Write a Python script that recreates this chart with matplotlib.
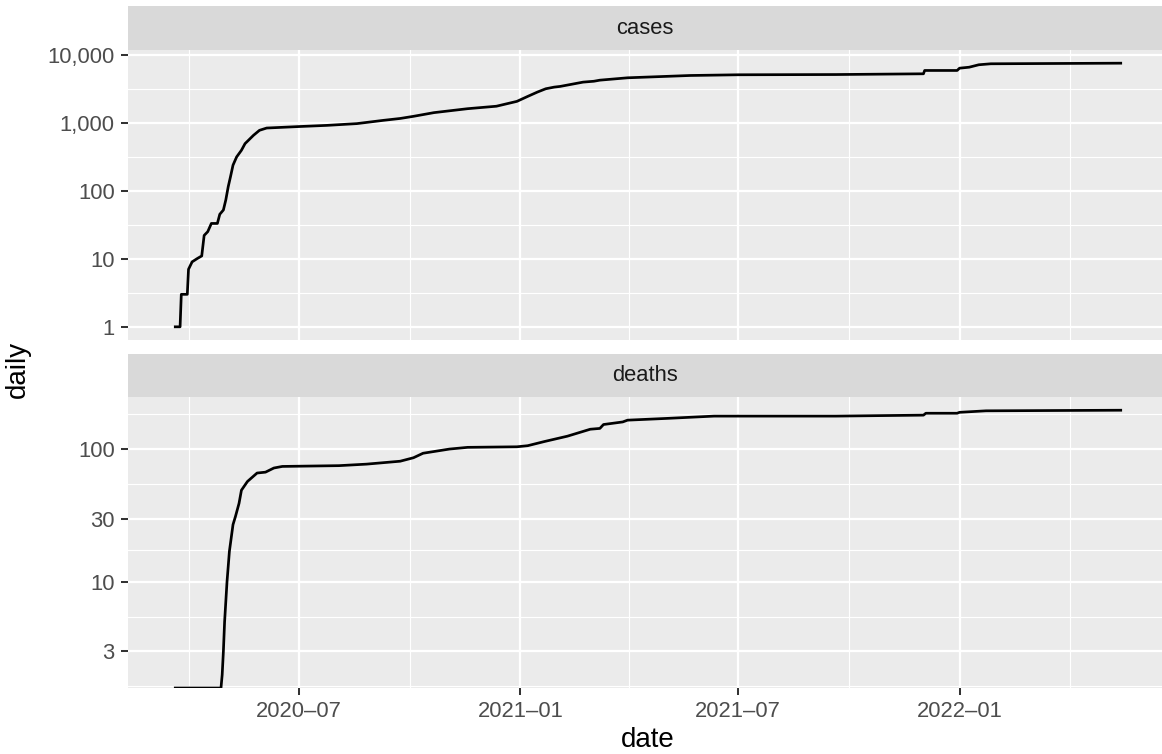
"""
Cumulative cases and deaths on log scales, two stacked facets
drawn in the style of a ggplot2 facet_wrap with free y scales.
"""

import datetime

import matplotlib
matplotlib.use('Agg')
import matplotlib.dates as mdates
import matplotlib.pyplot as plt
from matplotlib.ticker import FixedLocator, FuncFormatter
import numpy as np


CASE_DATES = [
    '2020-03-20', '2020-03-24', '2020-03-25', '2020-03-30', '2020-03-31',
    '2020-04-03', '2020-04-07', '2020-04-11', '2020-04-13', '2020-04-16',
    '2020-04-19', '2020-04-24', '2020-04-26', '2020-04-29', '2020-05-01',
    '2020-05-03', '2020-05-05', '2020-05-07', '2020-05-10', '2020-05-14',
    '2020-05-17', '2020-05-24', '2020-05-29', '2020-06-04', '2020-07-01',
    '2020-07-24', '2020-08-18', '2020-09-09', '2020-09-23', '2020-10-04',
    '2020-10-21', '2020-11-18', '2020-12-12', '2020-12-29', '2021-01-07',
    '2021-01-15', '2021-01-22', '2021-01-29', '2021-02-03', '2021-02-22',
    '2021-03-03', '2021-03-08', '2021-03-31', '2021-05-22', '2021-07-01',
    '2021-09-20', '2021-12-02', '2021-12-03', '2021-12-30', '2022-01-01',
    '2022-01-09', '2022-01-17', '2022-01-27', '2022-05-15',
]
CASE_VALUES = [
    1, 1, 3, 3, 7,
    9, 10, 11, 22, 25,
    33, 33, 45, 52, 73,
    114, 163, 237, 313, 392,
    491, 650, 770, 832, 875,
    910, 966, 1079, 1150, 1236,
    1400, 1600, 1740, 2050, 2425,
    2805, 3140, 3320, 3400, 3930,
    4050, 4200, 4550, 4920, 5040,
    5080, 5210, 5830, 5830, 6300,
    6510, 7070, 7310, 7460,
]

DEATH_DATES = [
    '2020-03-20', '2020-04-27', '2020-04-28', '2020-04-29', '2020-04-30',
    '2020-05-02', '2020-05-04', '2020-05-07', '2020-05-09', '2020-05-12',
    '2020-05-14', '2020-05-19', '2020-05-27', '2020-06-03', '2020-06-10',
    '2020-06-17', '2020-08-03', '2020-08-26', '2020-09-23', '2020-10-04',
    '2020-10-12', '2020-11-03', '2020-11-18', '2020-12-29', '2021-01-07',
    '2021-01-21', '2021-02-09', '2021-02-28', '2021-03-08', '2021-03-11',
    '2021-03-27', '2021-03-31', '2021-05-02', '2021-06-11', '2021-09-20',
    '2021-12-02', '2021-12-04', '2021-12-30', '2022-01-01', '2022-01-23',
    '2022-05-15',
]
DEATH_VALUES = [
    0, 0, 2, 3, 5,
    10, 17, 27, 31, 39,
    49, 57, 66, 67, 72,
    74, 75, 77, 81, 86,
    93, 100, 103, 104, 106,
    114, 125, 141, 143, 153,
    160, 165, 170, 177, 177,
    180, 186, 186, 189, 194,
    196,
]

FACETS = ['cases', 'deaths']
Y_BREAKS = {
    'cases': [1, 10, 100, 1000, 10000],
    'deaths': [3, 10, 30, 100],
}
X_BREAKS = ['2020-07-01', '2021-01-01', '2021-07-01', '2022-01-01']

FIG_W, FIG_H = 1162, 754

PANEL_BG = '#EBEBEB'
STRIP_BG = '#D9D9D9'
TICK_TEXT = '#4D4D4D'
TICK_COLOR = '#333333'


def to_num(dates):
    return mdates.date2num(
        [datetime.datetime.strptime(d, '%Y-%m-%d') for d in dates])


def add_px_axes(fig, left, top, right, bottom):
    return fig.add_axes([
        left / FIG_W, 1 - bottom / FIG_H,
        (right - left) / FIG_W, (bottom - top) / FIG_H])


def log_limits(values):
    positive = np.asarray(values, dtype=float)
    positive = positive[positive > 0]
    lo, hi = np.log10(positive.min()), np.log10(positive.max())
    pad = 0.05 * (hi - lo)
    return 10 ** (lo - pad), 10 ** (hi + pad)


def log_minor_breaks(breaks, limits):
    b = list(np.log10(breaks))
    step = b[1] - b[0]
    lo, hi = np.log10(limits)
    if lo < b[0]:
        b = [b[0] - step] + b
    if hi > b[-1]:
        b = b + [b[-1] + step]
    mids = [(a + c) / 2 for a, c in zip(b[:-1], b[1:])]
    return [10 ** m for m in mids if lo <= m <= hi]


def date_minor_breaks(breaks):
    step = breaks[1] - breaks[0]
    b = [breaks[0] - step] + list(breaks) + [breaks[-1] + step]
    return [(a + c) / 2 for a, c in zip(b[:-1], b[1:])]


def draw_strip(fig, top, bottom, left, right, label):
    ax = add_px_axes(fig, left, top, right, bottom)
    ax.set_facecolor(STRIP_BG)
    ax.set_xticks([])
    ax.set_yticks([])
    for spine in ax.spines.values():
        spine.set_visible(False)
    visible_center = (left + FIG_W) / 2
    ax.text((visible_center - left) / (right - left), 0.5, label,
            transform=ax.transAxes, ha='center', va='center',
            fontsize=15.8, color='#1A1A1A')


def main():

    plt.rcParams['font.family'] = ['Liberation Sans', 'DejaVu Sans']

    fig = plt.figure(figsize=(FIG_W / 100, FIG_H / 100), dpi=100)

    case_x = to_num(CASE_DATES)
    death_x = to_num(DEATH_DATES)

    all_x = np.concatenate([case_x, death_x])
    x_pad = 0.05 * (all_x.max() - all_x.min())
    x_limits = (all_x.min() - x_pad, all_x.max() + x_pad)

    x_breaks = to_num(X_BREAKS)
    x_minor = date_minor_breaks(list(x_breaks))

    left, right = 128, 1168
    layout = {
        'cases': (6, 50, 340),
        'deaths': (354, 397, 688),
    }
    series = {
        'cases': (case_x, np.array(CASE_VALUES, dtype=float)),
        'deaths': (death_x, np.array(DEATH_VALUES, dtype=float)),
    }

    for name in FACETS:

        strip_top, panel_top, panel_bottom = layout[name]
        draw_strip(fig, strip_top, panel_top, left, right, name)

        ax = add_px_axes(fig, left, panel_top, right, panel_bottom)
        ax.set_facecolor(PANEL_BG)
        for spine in ax.spines.values():
            spine.set_visible(False)

        x, y = series[name]
        y_limits = log_limits(y)
        # zeros have no log value; ggplot pins them to the panel edge
        y_plot = np.where(y > 0, y, y_limits[0])

        ax.plot(x, y_plot, color='black', lw=1.95, solid_joinstyle='round',
                zorder=3)

        ax.set_yscale('log')
        ax.set_ylim(*y_limits)
        ax.set_xlim(*x_limits)

        breaks = Y_BREAKS[name]
        ax.yaxis.set_major_locator(FixedLocator(breaks))
        ax.yaxis.set_minor_locator(
            FixedLocator(log_minor_breaks(breaks, y_limits)))
        ax.yaxis.set_major_formatter(FuncFormatter(lambda v, p: f'{v:,.0f}'))
        ax.yaxis.set_minor_formatter(FuncFormatter(lambda v, p: ''))

        ax.xaxis.set_major_locator(FixedLocator(x_breaks))
        ax.xaxis.set_minor_locator(FixedLocator(x_minor))
        ax.xaxis.set_major_formatter(mdates.DateFormatter('%Y\u2013%m'))

        ax.grid(which='major', color='white', lw=1.65)
        ax.grid(which='minor', color='white', lw=0.83)
        ax.set_axisbelow(True)

        ax.tick_params(which='major', length=5, width=1.45, color=TICK_COLOR,
                       labelcolor=TICK_TEXT, labelsize=15.8, pad=4.5)
        ax.tick_params(which='minor', length=0)

        if name != FACETS[-1]:
            ax.tick_params(axis='x', which='both', bottom=False,
                           labelbottom=False)

    fig.text(648 / FIG_W, 1 - 740 / FIG_H, 'date', ha='center', va='center',
             fontsize=20, color='black')
    fig.text(18 / FIG_W, 1 - 369 / FIG_H, 'daily', ha='center', va='center',
             rotation=90, fontsize=20, color='black')

    fig.savefig('out.png', dpi=100)


if __name__ == '__main__':
    main()
